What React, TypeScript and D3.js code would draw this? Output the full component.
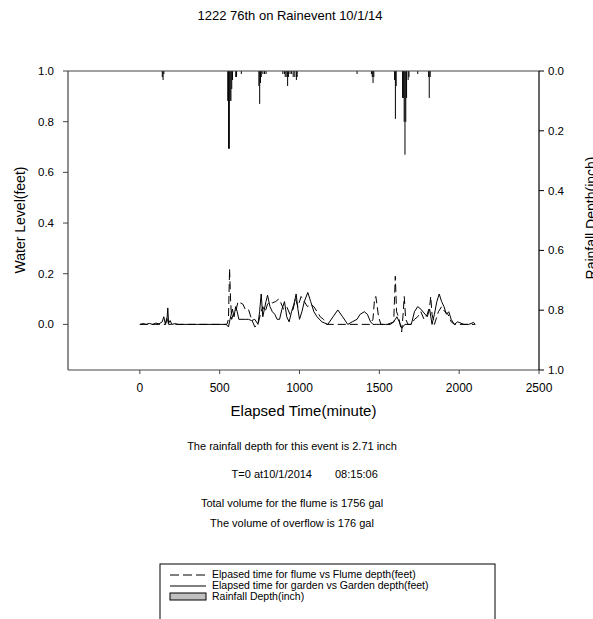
import React from "react";
import * as d3 from "d3";

const title = "1222 76th on Rainevent 10/1/14";
const xTicks = [0, 500, 1000, 1500, 2000, 2500];
const yLeftTicks = [0.0, 0.2, 0.4, 0.6, 0.8, 1.0];
const yRightTicks = [0.0, 0.2, 0.4, 0.6, 0.8, 1.0];

// Rainfall depth bars [elapsed minute, depth inch]
const rainTime = [140, 145, 150, 550, 555, 560, 565, 570, 575, 580, 600, 605, 635,
  745, 750, 755, 760, 770, 780, 790, 895, 905, 910, 920, 925, 930, 940, 950, 960, 970, 980, 985,
  1360, 1450, 1455, 1460, 1465, 1595, 1600, 1605,
  1645, 1650, 1655, 1660, 1665, 1670, 1680, 1685, 1740, 1808, 1812, 1818];
const rainDepth = [0.02, 0.03, 0.01, 0.1, 0.26, 0.26, 0.1, 0.1, 0.06, 0.03, 0.02, 0.02, 0.01,
  0.05, 0.11, 0.04, 0.02, 0.01, 0.01, 0.01, 0.01, 0.01, 0.02, 0.02, 0.05, 0.02, 0.01, 0.01, 0.02, 0.02, 0.03, 0.02,
  0.01, 0.01, 0.02, 0.04, 0.02, 0.03, 0.16, 0.05,
  0.09, 0.09, 0.17, 0.28, 0.17, 0.09, 0.03, 0.02, 0.01, 0.02, 0.09, 0.02];

// Garden depth (solid)
const gardenTime = [0, 20, 40, 60, 80, 100, 120, 140, 150, 160, 170, 175, 180, 190, 200, 220, 240, 300, 360, 420, 480, 540,
  555, 565, 580, 590, 600, 610, 620, 640, 660, 680, 700, 720, 740, 750, 760, 770, 780, 790, 800, 815, 830, 845, 860,
  875, 890, 906, 920, 935, 950, 965, 979, 990, 1000, 1015, 1030, 1052, 1070, 1090, 1110, 1140, 1177, 1210, 1240, 1270,
  1302, 1330, 1360, 1380, 1406, 1425, 1445, 1460, 1480, 1500, 1540, 1570, 1590, 1610, 1625, 1640, 1660, 1680, 1700,
  1720, 1740, 1760, 1780, 1800, 1815, 1830, 1845, 1860, 1875, 1890, 1905, 1920, 1935, 1950, 1970, 1990, 2010, 2030,
  2060, 2080, 2090, 2100];
const gardenDepth = [0, 0.003, 0, 0.004, 0, 0.005, 0.002, 0.01, 0.03, 0, 0.02, 0.065, 0.005, 0.015, 0, 0.003, 0, 0, 0, 0, 0, 0,
  -0.01, 0.02, 0.06, 0.03, 0.07, 0.05, 0.02, 0.02, 0.02, 0.02, 0.015, 0.02, 0, 0.05, 0.12, 0.03, 0.06, 0.09, 0.115, 0.07, 0.05, 0.04, 0.02,
  0.02, 0.06, 0.09, 0.03, 0.01, 0.05, 0.08, 0.12, 0.06, 0.02, 0.05, 0.09, 0.126, 0.09, 0.05, 0.03, 0.01, 0, 0.03, 0.057, 0.03,
  0, 0.01, 0.02, 0.04, 0.05, 0.04, 0.01, 0, 0, 0, 0, 0, 0.01, 0.03, 0.01, -0.015, 0, 0, 0,
  0.05, 0.07, 0.06, 0.045, 0.03, 0.06, 0, 0.04, 0.09, 0.12, 0.09, 0.07, 0.04, 0.05, 0.02, 0, 0.01, 0.005, 0,
  0, 0.005, 0.008, 0];

// Flume depth (dashed)
const flumeTime = [0, 100, 160, 170, 180, 300, 545, 555, 562, 568, 575, 585, 600, 615, 630, 645, 660, 680, 700, 720, 740,
  755, 770, 785, 800, 815, 830, 850, 870, 880, 900, 920, 940, 960, 975, 990, 1010, 1030, 1050, 1070, 1090, 1110, 1130,
  1150, 1170, 1300, 1440, 1460, 1470, 1478, 1485, 1495, 1510, 1550, 1590, 1600, 1608, 1620, 1640, 1650, 1656, 1665,
  1680, 1700, 1720, 1740, 1760, 1780, 1800, 1815, 1822, 1830, 1845, 1870, 1890, 1910, 1930, 1950, 1970, 2000, 2100];
const flumeDepth = [0, 0, 0, 0.03, 0, 0, 0, 0.02, 0.22, 0.1, 0.02, 0.04, 0.05, 0.09, 0.085, 0.08, 0.06, 0.06, 0.02, -0.01, 0,
  0.04, 0.07, 0.05, 0.08, 0.09, 0.085, 0.09, 0.1, 0.09, 0.06, 0.07, 0.04, 0.06, 0.1, 0.07, 0.11, 0.09, 0.07, 0.08, 0.07, 0.05, 0.03,
  0.02, 0, 0, 0, 0.02, 0.1, 0.11, 0.08, 0.03, 0, 0, 0.01, 0.19, 0.05, 0.03, -0.03, 0.05, 0.11, 0.02,
  0, 0, 0.02, 0.03, 0.05, 0.02, 0.04, 0.07, 0.11, 0.04, 0, 0.05, 0.07, 0.05, 0.04, 0.01, 0, 0, 0];

const infoLines = [
  "The rainfall depth for this event is 2.71 inch",
  "Total volume for the flume is 1756 gal",
  "The volume of overflow is 176 gal",
];
const legendLabels = [
  "Elpased time for flume vs Flume depth(feet)",
  "Elapsed time for garden vs Garden depth(feet)",
  "Rainfall Depth(inch)",
];

const FONT = "'Liberation Sans', Arial, sans-serif";

export default function App() {
  const W = 593, H = 619;
  const left = 68, right = 539, top = 71, bottom = 370;
  const x = d3.scaleLinear().domain([-450, 2500]).range([left, right]);
  const yL = d3.scaleLinear().domain([-0.18, 1.0]).range([bottom, top]);
  const yR = d3.scaleLinear().domain([0, 1]).range([top, bottom]);

  const garden = gardenTime.map((t, i) => [t, gardenDepth[i]] as [number, number]);
  const flume = flumeTime.map((t, i) => [t, flumeDepth[i]] as [number, number]);
  const line = d3.line<[number, number]>().x(d => x(d[0])).y(d => yL(d[1]));
  const fmt = d3.format(".1f");

  return (
    <svg width={W} height={H} style={{ position: "absolute", left: 0, top: 0, background: "#fff" }} fontFamily={FONT}>
      <rect x={0} y={0} width={W} height={H} fill="#fff" />
      <text x={290} y={20} textAnchor="middle" fontSize={13}>{title}</text>

      {/* rainfall bars */}
      <g>
        {rainTime.map((t, i) => (
          <rect key={i} x={x(t - 2.6)} y={yR(0)} width={Math.max(x(t + 2.6) - x(t - 2.6), 1)}
            height={yR(rainDepth[i]) - yR(0)} fill="#000" />
        ))}
      </g>

      {/* lines */}
      <path d={line(garden) || ""} fill="none" stroke="#000" strokeWidth={1} />
      <path d={line(flume) || ""} fill="none" stroke="#000" strokeWidth={1} strokeDasharray="8,4" />

      {/* frame */}
      <line x1={left} x2={right} y1={top} y2={top} stroke="#444" strokeWidth={1.2} />
      <line x1={left} x2={left} y1={top} y2={bottom} stroke="#444" strokeWidth={1.2} />
      <line x1={left} x2={right} y1={bottom} y2={bottom} stroke="#444" strokeWidth={1.2} />
      <line x1={right} x2={right} y1={top} y2={bottom} stroke="#000" strokeWidth={1.2} />

      {/* left axis */}
      {yLeftTicks.map(v => (
        <g key={"l" + v}>
          <line x1={left - 5} x2={left} y1={yL(v)} y2={yL(v)} stroke="#444" />
          <text x={54} y={yL(v) + 4} textAnchor="end" fontSize={11.5}>{fmt(v)}</text>
        </g>
      ))}
      <text transform={`translate(25,220) rotate(-90)`} textAnchor="middle" fontSize={14}>Water Level(feet)</text>

      {/* right axis */}
      {yRightTicks.map(v => (
        <g key={"r" + v}>
          <line x1={right} x2={right + 5} y1={yR(v)} y2={yR(v)} stroke="#000" />
          <text x={548} y={yR(v) + 4} textAnchor="start" fontSize={11.5}>{fmt(v)}</text>
        </g>
      ))}
      <text transform={`translate(596,218) rotate(-90)`} textAnchor="middle" fontSize={14}>Rainfall Depth(inch)</text>

      {/* bottom axis */}
      {xTicks.map(v => (
        <g key={"x" + v}>
          <line x1={x(v)} x2={x(v)} y1={bottom} y2={bottom + 4} stroke="#444" />
          <text x={x(v)} y={392} textAnchor="middle" fontSize={12}>{v}</text>
        </g>
      ))}
      <text x={303.5} y={416} textAnchor="middle" fontSize={15}>Elapsed Time(minute)</text>

      {/* info text */}
      <text x={292} y={450} textAnchor="middle" fontSize={11}>{infoLines[0]}</text>
      <text x={312} y={478} textAnchor="end" fontSize={11}>T=0 at10/1/2014</text>
      <text x={335} y={478} textAnchor="start" fontSize={11}>08:15:06</text>
      <text x={292} y={507} textAnchor="middle" fontSize={11}>{infoLines[1]}</text>
      <text x={292} y={527} textAnchor="middle" fontSize={11}>{infoLines[2]}</text>

      {/* legend */}
      <rect x={160} y={564} width={335} height={70} fill="none" stroke="#000" strokeWidth={1} />
      <line x1={170} x2={206} y1={575} y2={575} stroke="#000" strokeDasharray="9,4" />
      <line x1={170} x2={206} y1={586} y2={586} stroke="#000" />
      <rect x={170} y={593} width={36} height={7} fill="#c0c0c0" stroke="#000" />
      <text x={212} y={578} fontSize={10.5}>{legendLabels[0]}</text>
      <text x={212} y={589} fontSize={10.5}>{legendLabels[1]}</text>
      <text x={212} y={600} fontSize={10.5}>{legendLabels[2]}</text>
    </svg>
  );
}
